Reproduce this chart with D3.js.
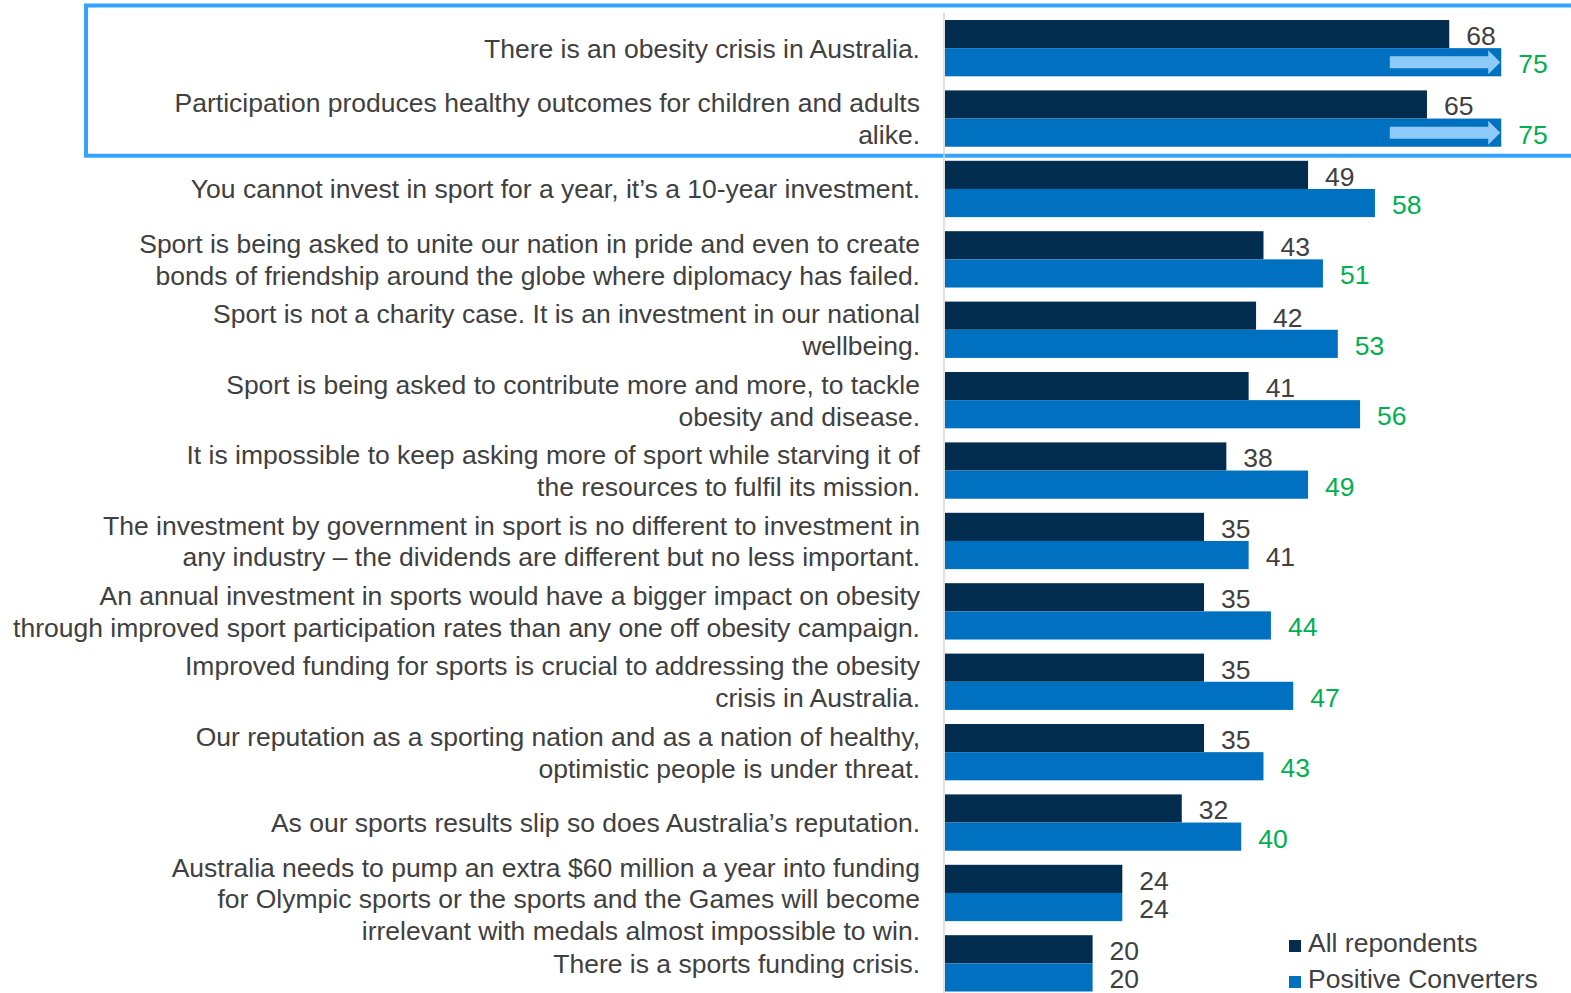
<!DOCTYPE html>
<html>
<head>
<meta charset="utf-8">
<script src="https://cdn.jsdelivr.net/npm/d3@7"></script>
<style>
  html, body { margin: 0; padding: 0; background: #fff; }
  svg { display: block; font-family: "Liberation Sans", Arial, sans-serif; }
</style>
</head>
<body>
<svg id="chart" width="1571" height="993"></svg>
<script>
// Statements (each entry is the list of wrapped lines)
const statements = [
  ["There is an obesity crisis in Australia."],
  ["Participation produces healthy outcomes for children and adults", "alike."],
  ["You cannot invest in sport for a year, it\u2019s a 10-year investment."],
  ["Sport is being asked to unite our nation in pride and even to create", "bonds of friendship around the globe where diplomacy has failed."],
  ["Sport is not a charity case. It is an investment in our national", "wellbeing."],
  ["Sport is being asked to contribute more and more, to tackle", "obesity and disease."],
  ["It is impossible to keep asking more of sport while starving it of", "the resources to fulfil its mission."],
  ["The investment by government in sport is no different to investment in", "any industry \u2013 the dividends are different but no less important."],
  ["An annual investment in sports would have a bigger impact on obesity", "through improved sport participation rates than any one off obesity campaign."],
  ["Improved funding for sports is crucial to addressing the obesity", "crisis in Australia."],
  ["Our reputation as a sporting nation and as a nation of healthy,", "optimistic people is under threat."],
  ["As our sports results slip so does Australia\u2019s reputation."],
  ["Australia needs to pump an extra $60 million a year into funding", "for Olympic sports or the sports and the Games will become", "irrelevant with medals almost impossible to win."],
  ["There is a sports funding crisis."]
];

const seriesNames = ["All repondents", "Positive Converters"];
const allRespondents = [68, 65, 49, 43, 42, 41, 38, 35, 35, 35, 35, 32, 24, 20];
const positiveConverters = [75, 75, 58, 51, 53, 56, 49, 41, 44, 47, 43, 40, 24, 20];
// Positive-converter values that stand out (shown in green)
const standout = [true, true, true, true, true, true, true, false, true, true, true, true, false, false];
// Highlighted statements with an arrow on the converters bar (arrow start value)
const arrowStart = [60, 60, null, null, null, null, null, null, null, null, null, null, null, null];

const colors = { all: "#022d4e", pos: "#0070c0", arrow: "#8fcbf9", text: "#404040", green: "#00b050", frame: "#34a3fb", axis: "#d4d4d4" };

const svg = d3.select("#chart");
const W = 1571, H = 993;
const axisX = 944;
const fontSize = 26.5;

const x = d3.scaleLinear().domain([0, 100]).range([axisX, axisX + 743]);
const idx = d3.range(statements.length);
const y = d3.scaleBand().domain(idx).range([12.96, 998.56]).paddingInner(0.2).paddingOuter(0.1);
const ySub = d3.scaleBand().domain([0, 1]).range([0, y.bandwidth()]);

// Highlight frame around the first two statements
const hiRows = idx.filter(i => arrowStart[i] != null);
const frameTop = y(hiRows[0]) - 14.5;
const frameBot = y(hiRows[hiRows.length - 1]) + y.bandwidth() + 9;
svg.append("rect")
  .attr("x", 86).attr("y", frameTop)
  .attr("width", W + 20 - 86).attr("height", frameBot - frameTop)
  .attr("fill", "none").attr("stroke", colors.frame).attr("stroke-width", 4);

// Vertical axis line
svg.append("line")
  .attr("x1", axisX).attr("x2", axisX)
  .attr("y1", 13).attr("y2", H)
  .attr("stroke", colors.axis).attr("stroke-width", 1.5);

const rows = svg.append("g").selectAll("g.row").data(idx).join("g")
  .attr("class", "row")
  .attr("transform", i => `translate(0,${y(i)})`);

// Bars
rows.append("rect")
  .attr("x", x(0) + 1)
  .attr("y", ySub(0))
  .attr("width", i => x(allRespondents[i]) - x(0) - 1)
  .attr("height", ySub.bandwidth())
  .attr("fill", colors.all);
rows.append("rect")
  .attr("x", x(0) + 1)
  .attr("y", ySub(1))
  .attr("width", i => x(positiveConverters[i]) - x(0) - 1)
  .attr("height", ySub.bandwidth())
  .attr("fill", colors.pos);

// Arrows on highlighted rows
rows.filter(i => arrowStart[i] != null).append("path")
  .attr("fill", colors.arrow)
  .attr("d", i => {
    const x0 = x(arrowStart[i]), x1 = x(positiveConverters[i]) - 1;
    const cy = ySub(1) + ySub.bandwidth() / 2;
    const sh = 6, hh = 12, hl = 12;
    return `M${x0},${cy - sh}L${x1 - hl},${cy - sh}L${x1 - hl},${cy - hh}L${x1},${cy}` +
           `L${x1 - hl},${cy + hh}L${x1 - hl},${cy + sh}L${x0},${cy + sh}Z`;
  });

// Value labels
rows.append("text")
  .attr("x", i => x(allRespondents[i]) + 17)
  .attr("y", ySub(0) + ySub.bandwidth() / 2 + 11)
  .attr("font-size", fontSize).attr("fill", colors.text)
  .text(i => allRespondents[i]);
rows.append("text")
  .attr("x", i => x(positiveConverters[i]) + 17)
  .attr("y", ySub(1) + ySub.bandwidth() / 2 + 11)
  .attr("font-size", fontSize)
  .attr("fill", i => standout[i] ? colors.green : colors.text)
  .text(i => positiveConverters[i]);

// Statement labels, right-aligned against the axis
const lineH = 31.7;
rows.append("text")
  .attr("text-anchor", "end")
  .attr("font-size", fontSize).attr("fill", colors.text)
  .each(function(i) {
    const lines = statements[i];
    const c = y.bandwidth() / 2 + (lines.length > 2 ? 6 : 0);
    const first = c - (lines.length - 1) * lineH / 2 + 9.5;
    d3.select(this).selectAll("tspan").data(lines).join("tspan")
      .attr("x", 920)
      .attr("y", (d, k) => first + k * lineH)
      .text(d => d);
  });

// Legend
const legend = svg.append("g").attr("transform", "translate(1289,940)");
const legendColors = [colors.all, colors.pos];
seriesNames.forEach((name, k) => {
  const g = legend.append("g").attr("transform", `translate(0,${k * 36})`);
  g.append("rect").attr("width", 12).attr("height", 12).attr("fill", legendColors[k]);
  g.append("text").attr("x", 19).attr("y", 12).attr("font-size", fontSize).attr("fill", colors.text).text(name);
});
</script>
</body>
</html>
